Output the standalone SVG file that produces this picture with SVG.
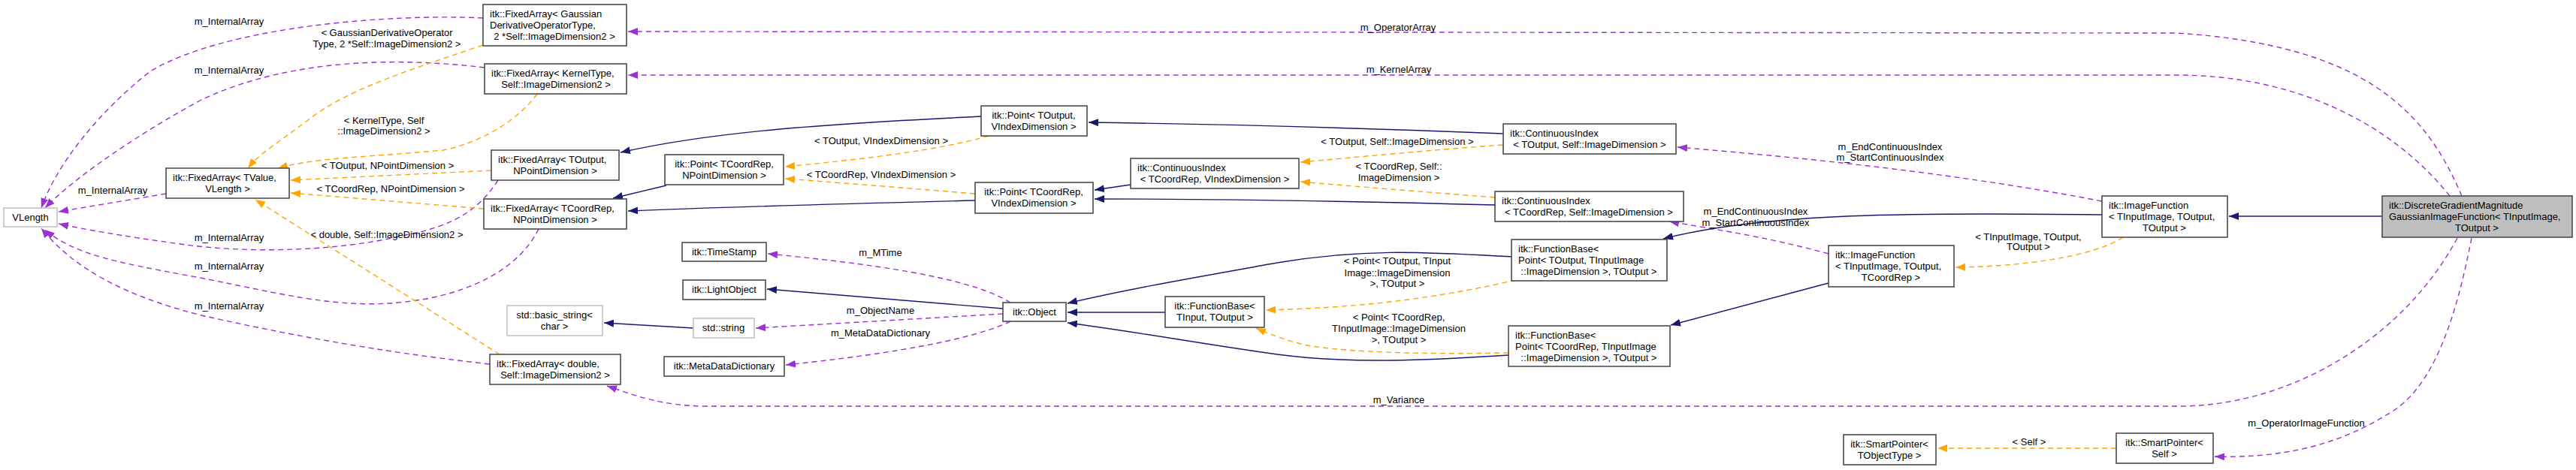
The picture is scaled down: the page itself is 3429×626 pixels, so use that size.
<svg xmlns="http://www.w3.org/2000/svg" width="3429" height="626" viewBox="0 0 3429 626">
<style>
text{font-family:"Liberation Sans",Arial,sans-serif;font-size:13px;fill:#000}
.n rect{fill:#fff;stroke:#404040;stroke-width:1.5}
.g rect{fill:#fff;stroke:#bfbfbf;stroke-width:1.5}
.m{text-anchor:middle}
.p{fill:none;stroke:#9a32cd;stroke-width:1.4;stroke-dasharray:7,5;marker-end:url(#ap)}
.o{fill:none;stroke:#ffa500;stroke-width:1.4;stroke-dasharray:7,5;marker-end:url(#ao)}
.b{fill:none;stroke:#191970;stroke-width:1.4;marker-end:url(#ab)}
</style>
<defs>
<marker id="ap" markerUnits="userSpaceOnUse" markerWidth="14" markerHeight="10" refX="13" refY="5" orient="auto"><path d="M0,0L13,5L0,10z" fill="#9a32cd"/></marker>
<marker id="ao" markerUnits="userSpaceOnUse" markerWidth="14" markerHeight="10" refX="13" refY="5" orient="auto"><path d="M0,0L13,5L0,10z" fill="#ffa500"/></marker>
<marker id="ab" markerUnits="userSpaceOnUse" markerWidth="14" markerHeight="10" refX="13" refY="5" orient="auto"><path d="M0,0L13,5L0,10z" fill="#191970"/></marker>
</defs>
<g id="connectors">
<path class="p" d="M643,24 C520,18 300,35 200,95 C130,150 75,220 55,277"/>
<path class="p" d="M645,90 C520,75 380,80 268,133 C190,175 100,235 60,277"/>
<path class="p" d="M221,258 L78,282"/>
<path class="p" d="M663,240 C640,275 610,300 540,313 C450,335 330,338 240,325 C160,314 110,305 78,298"/>
<path class="p" d="M717,305 C690,360 620,395 530,403 C440,412 350,385 250,367 C160,350 100,340 60,306"/>
<path class="p" d="M652,485 C500,468 380,445 268,420 C170,395 100,360 55,304"/>
<path class="o" d="M643,60 C540,95 460,120 410,160 C370,190 345,205 330,224"/>
<path class="o" d="M715,125 C690,160 640,190 590,200 C480,210 420,210 370,224"/>
<path class="o" d="M654,227 L387,240"/>
<path class="o" d="M644,278 L387,257"/>
<path class="o" d="M665,472 L340,266"/>
<path class="b" d="M1306,155 C1100,165 950,175 826,203"/>
<path class="b" d="M887,247 L816,264"/>
<path class="b" d="M1298,267 C1100,272 950,276 836,281"/>
<path class="o" d="M1316,181 C1250,200 1150,212 1045,222"/>
<path class="o" d="M1298,258 C1200,250 1100,242 1045,238"/>
<path class="b" d="M2001,178 C1800,170 1600,165 1449,163"/>
<path class="b" d="M1505,246 L1457,253"/>
<path class="b" d="M1990,273 C1800,268 1600,265 1457,265"/>
<path class="o" d="M2001,193 C1900,200 1800,210 1731,216"/>
<path class="o" d="M1990,263 C1900,256 1800,248 1731,242"/>
<path class="p" d="M2798,268 C2600,230 2400,210 2233,196"/>
<path class="p" d="M2434,338 C2350,315 2280,305 2222,295"/>
<path class="b" d="M2798,286 C2550,283 2350,283 2214,318"/>
<path class="b" d="M2434,377 L2224,433"/>
<path class="o" d="M2826,316 C2790,340 2700,355 2603,356"/>
<path class="b" d="M3171,288 L2967,288"/>
<path class="b" d="M2013,342 C1900,336 1820,330 1700,350 C1600,368 1500,385 1421,404"/>
<path class="b" d="M1551,416 L1421,416"/>
<path class="b" d="M2008,473 C1900,480 1800,485 1700,472 C1600,458 1500,440 1421,430"/>
<path class="o" d="M2018,373 C1900,400 1800,410 1685,413"/>
<path class="o" d="M2008,470 C1900,472 1800,470 1740,460 C1710,453 1690,445 1672,437"/>
<path class="p" d="M1345,403 C1300,375 1200,355 1022,338"/>
<path class="b" d="M1335,411 L1021,385"/>
<path class="p" d="M1335,418 L1006,437"/>
<path class="p" d="M1345,428 C1300,450 1200,470 1046,486"/>
<path class="b" d="M923,437 L804,430"/>
<path class="p" d="M3271,317 C3200,450 3050,541 2900,541 L940,541 C880,541 840,525 808,514"/>
<path class="p" d="M3290,317 C3270,420 3240,520 3176,553 C3100,600 3020,610 2948,608"/>
<path class="o" d="M2817,597 L2579,597"/>
<path class="p" d="M3277,261 C3230,150 3150,60 2897,44 L836,42"/>
<path class="p" d="M3261,261 C3180,160 3050,100 2897,100 L836,100"/>
</g>
<g id="labels">
<text class="m" x="305" y="33">m_InternalArray</text>
<text class="m" x="305" y="98">m_InternalArray</text>
<text class="m" x="150" y="258">m_InternalArray</text>
<text class="m" x="305" y="321">m_InternalArray</text>
<text class="m" x="305" y="359">m_InternalArray</text>
<text class="m" x="305" y="412">m_InternalArray</text>
<text class="m" x="515" y="48">&lt; GaussianDerivativeOperator</text>
<text class="m" x="515" y="63">Type, 2 *Self::ImageDimension2 &gt;</text>
<text class="m" x="511" y="165">&lt; KernelType, Self</text>
<text class="m" x="511" y="179">::ImageDimension2 &gt;</text>
<text class="m" x="516" y="225">&lt; TOutput, NPointDimension &gt;</text>
<text class="m" x="520" y="256">&lt; TCoordRep, NPointDimension &gt;</text>
<text class="m" x="515" y="317">&lt; double, Self::ImageDimension2 &gt;</text>
<text class="m" x="1173" y="192">&lt; TOutput, VIndexDimension &gt;</text>
<text class="m" x="1173" y="237">&lt; TCoordRep, VIndexDimension &gt;</text>
<text class="m" x="1172" y="341">m_MTime</text>
<text class="m" x="1172" y="418">m_ObjectName</text>
<text class="m" x="1172" y="448">m_MetaDataDictionary</text>
<text class="m" x="1861" y="41">m_OperatorArray</text>
<text class="m" x="1862" y="97">m_KernelArray</text>
<text class="m" x="1860" y="193">&lt; TOutput, Self::ImageDimension &gt;</text>
<text class="m" x="1862" y="226">&lt; TCoordRep, Self::</text>
<text class="m" x="1862" y="241">ImageDimension &gt;</text>
<text class="m" x="1860" y="352">&lt; Point&lt; TOutput, TInput</text>
<text class="m" x="1860" y="368">Image::ImageDimension</text>
<text class="m" x="1860" y="382">&gt;, TOutput &gt;</text>
<text class="m" x="1862" y="427">&lt; Point&lt; TCoordRep,</text>
<text class="m" x="1862" y="442">TInputImage::ImageDimension</text>
<text class="m" x="1862" y="457">&gt;, TOutput &gt;</text>
<text class="m" x="1862" y="537">m_Variance</text>
<text class="m" x="2516" y="200">m_EndContinuousIndex</text>
<text class="m" x="2516" y="214">m_StartContinuousIndex</text>
<text class="m" x="2337" y="286">m_EndContinuousIndex</text>
<text class="m" x="2337" y="301">m_StartContinuousIndex</text>
<text class="m" x="2700" y="320">&lt; TInputImage, TOutput,</text>
<text class="m" x="2700" y="333">TOutput &gt;</text>
<text class="m" x="3070" y="568">m_OperatorImageFunction</text>
<text class="m" x="2701" y="593">&lt; Self &gt;</text>
</g>
<g id="VLength" class="g"><rect x="5" y="277" width="71" height="25"/><text class="m" x="40.5" y="294">VLength</text></g>
<g id="FixedArrayTValue" class="n"><rect x="221" y="224" width="164" height="40"/><text x="230" y="241">itk::FixedArray&lt; TValue,</text><text class="m" x="303" y="256">VLength &gt;</text></g>
<g id="FixedArrayGaussian" class="n"><rect x="643" y="6" width="191" height="55"/><text x="652" y="23">itk::FixedArray&lt; Gaussian</text><text x="652" y="38">DerivativeOperatorType,</text><text class="m" x="738" y="53">2 *Self::ImageDimension2 &gt;</text></g>
<g id="FixedArrayKernel" class="n"><rect x="645" y="85" width="189" height="40"/><text x="654" y="102">itk::FixedArray&lt; KernelType,</text><text class="m" x="740" y="117">Self::ImageDimension2 &gt;</text></g>
<g id="FixedArrayTOutput" class="n"><rect x="654" y="200" width="170" height="40"/><text x="663" y="217">itk::FixedArray&lt; TOutput,</text><text class="m" x="739" y="232">NPointDimension &gt;</text></g>
<g id="FixedArrayTCoordRep" class="n"><rect x="644" y="265" width="190" height="40"/><text x="653" y="282">itk::FixedArray&lt; TCoordRep,</text><text class="m" x="739" y="297">NPointDimension &gt;</text></g>
<g id="FixedArrayDouble" class="n"><rect x="652" y="472" width="174" height="40"/><text x="661" y="489">itk::FixedArray&lt; double,</text><text class="m" x="739" y="504">Self::ImageDimension2 &gt;</text></g>
<g id="PointTCoordRepN" class="n"><rect x="885" y="206" width="158" height="40"/><text class="m" x="964" y="223">itk::Point&lt; TCoordRep,</text><text class="m" x="964" y="238">NPointDimension &gt;</text></g>
<g id="TimeStamp" class="n"><rect x="908" y="323" width="112" height="25"/><text class="m" x="964" y="340">itk::TimeStamp</text></g>
<g id="LightObject" class="n"><rect x="909" y="373" width="110" height="26"/><text class="m" x="964" y="390">itk::LightObject</text></g>
<g id="BasicString" class="g"><rect x="675" y="407" width="127" height="40"/><text class="m" x="738" y="424">std::basic_string&lt;</text><text class="m" x="738" y="439">char &gt;</text></g>
<g id="StdString" class="g"><rect x="923" y="424" width="81" height="26"/><text class="m" x="963" y="441">std::string</text></g>
<g id="MetaDataDictionary" class="n"><rect x="884" y="475" width="160" height="26"/><text class="m" x="964" y="492">itk::MetaDataDictionary</text></g>
<g id="Object" class="n"><rect x="1335" y="403" width="84" height="25"/><text class="m" x="1377" y="420">itk::Object</text></g>
<g id="FunctionBase" class="n"><rect x="1551" y="395" width="132" height="41"/><text class="m" x="1617" y="412">itk::FunctionBase&lt;</text><text class="m" x="1617" y="427">TInput, TOutput &gt;</text></g>
<g id="PointTOutputV" class="n"><rect x="1306" y="141" width="141" height="40"/><text class="m" x="1376" y="158">itk::Point&lt; TOutput,</text><text class="m" x="1376" y="173">VIndexDimension &gt;</text></g>
<g id="PointTCoordRepV" class="n"><rect x="1298" y="243" width="157" height="41"/><text class="m" x="1376" y="260">itk::Point&lt; TCoordRep,</text><text class="m" x="1376" y="275">VIndexDimension &gt;</text></g>
<g id="ContIndexTCoordRepV" class="n"><rect x="1505" y="211" width="224" height="40"/><text x="1514" y="228">itk::ContinuousIndex</text><text class="m" x="1617" y="243">&lt; TCoordRep, VIndexDimension &gt;</text></g>
<g id="ContIndexTOutputSelf" class="n"><rect x="2001" y="165" width="230" height="40"/><text x="2010" y="182">itk::ContinuousIndex</text><text class="m" x="2116" y="197">&lt; TOutput, Self::ImageDimension &gt;</text></g>
<g id="ContIndexTCoordRepSelf" class="n"><rect x="1990" y="255" width="251" height="40"/><text x="1999" y="272">itk::ContinuousIndex</text><text class="m" x="2115" y="287">&lt; TCoordRep, Self::ImageDimension &gt;</text></g>
<g id="FunctionBasePointTOutput" class="n"><rect x="2012" y="319" width="207" height="55"/><text x="2021" y="336">itk::FunctionBase&lt;</text><text x="2021" y="351">Point&lt; TOutput, TInputImage</text><text class="m" x="2115" y="366">::ImageDimension &gt;, TOutput &gt;</text></g>
<g id="FunctionBasePointTCoordRep" class="n"><rect x="2008" y="434" width="215" height="54"/><text x="2017" y="451">itk::FunctionBase&lt;</text><text x="2017" y="466">Point&lt; TCoordRep, TInputImage</text><text class="m" x="2115" y="481">::ImageDimension &gt;, TOutput &gt;</text></g>
<g id="ImageFunctionTCoordRep" class="n"><rect x="2434" y="327" width="167" height="55"/><text x="2443" y="344">itk::ImageFunction</text><text x="2443" y="359">&lt; TInputImage, TOutput,</text><text class="m" x="2517" y="374">TCoordRep &gt;</text></g>
<g id="ImageFunctionTOutput" class="n"><rect x="2798" y="261" width="167" height="55"/><text x="2807" y="278">itk::ImageFunction</text><text x="2807" y="293">&lt; TInputImage, TOutput,</text><text class="m" x="2881" y="308">TOutput &gt;</text></g>
<g id="DiscreteGradient" class="n"><rect x="3171" y="261" width="253" height="55" style="fill:#bfbfbf"/><text x="3180" y="278">itk::DiscreteGradientMagnitude</text><text x="3180" y="293">GaussianImageFunction&lt; TInputImage,</text><text class="m" x="3297" y="308">TOutput &gt;</text></g>
<g id="SmartPointerTObjectType" class="n"><rect x="2454" y="579" width="123" height="40"/><text class="m" x="2515" y="596">itk::SmartPointer&lt;</text><text class="m" x="2515" y="611">TObjectType &gt;</text></g>
<g id="SmartPointerSelf" class="n"><rect x="2817" y="577" width="129" height="40"/><text class="m" x="2881" y="594">itk::SmartPointer&lt;</text><text class="m" x="2881" y="609">Self &gt;</text></g>
</svg>
